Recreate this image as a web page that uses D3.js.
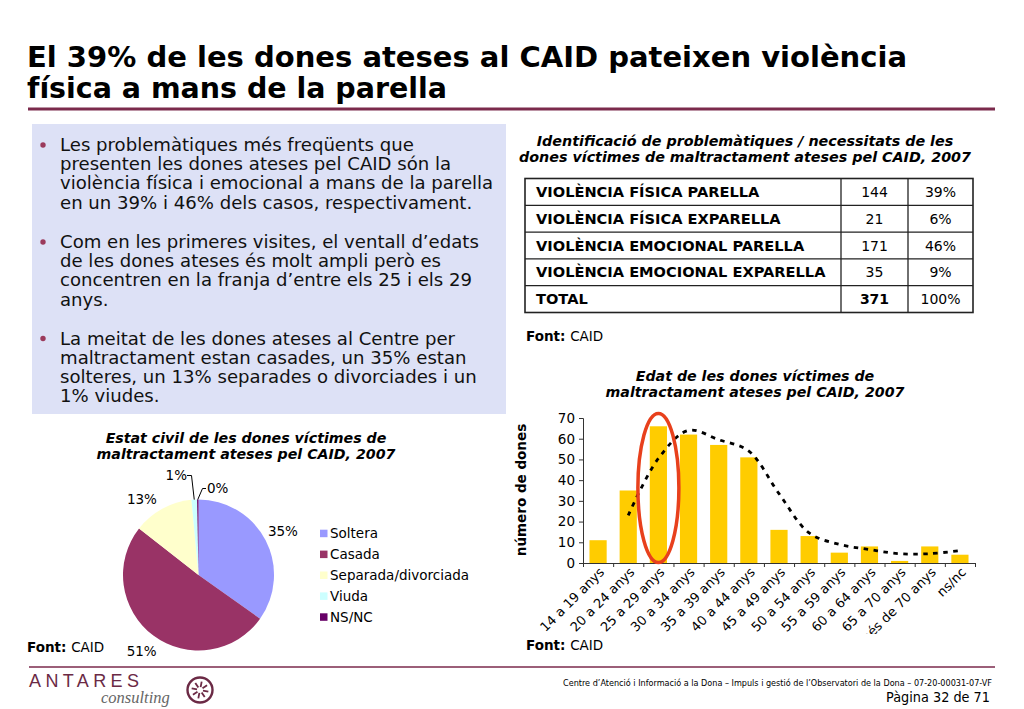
<!DOCTYPE html>
<html><head><meta charset="utf-8">
<script src="https://cdn.jsdelivr.net/npm/d3@7"></script>
<style>
html,body{margin:0;padding:0;background:#fff;}
svg{display:block;}
</style></head>
<body>
<svg id="chart" width="1024" height="709"></svg>
<script>
// ---------- DATA ----------
const titleLines = ["El 39% de les dones ateses al CAID pateixen violència", "física a mans de la parella"];
const bulletParagraphs = [
  ["Les problemàtiques més freqüents que", "presenten les dones ateses pel CAID són la", "violència física i emocional a mans de la parella", "en un 39% i 46% dels casos, respectivament."],
  ["Com en les primeres visites, el ventall d’edats", "de les dones ateses és molt ampli però es", "concentren en la franja d’entre els 25 i els 29", "anys."],
  ["La meitat de les dones ateses al Centre per", "maltractament estan casades, un 35% estan", "solteres, un 13% separades o divorciades i un", "1% viudes."]
];
const tableTitle = ["Identificació de problemàtiques / necessitats  de les", "dones víctimes de maltractament ateses pel CAID, 2007"];
const tableLabels = ["VIOLÈNCIA FÍSICA PARELLA", "VIOLÈNCIA FÍSICA EXPARELLA", "VIOLÈNCIA EMOCIONAL PARELLA", "VIOLÈNCIA EMOCIONAL EXPARELLA", "TOTAL"];
const tableCounts = ["144", "21", "171", "35", "371"];
const tablePcts = ["39%", "6%", "46%", "9%", "100%"];

const pieTitle = ["Estat civil de les dones víctimes de", "maltractament ateses pel CAID, 2007"];
const pieCategories = ["Soltera", "Casada", "Separada/divorciada", "Viuda", "NS/NC"];
const pieValues = [35, 51, 13, 1.2, 0.3];
const pieLabels = ["35%", "51%", "13%", "1%", "0%"];
const pieColors = ["#9999ff", "#993366", "#ffffcc", "#ccffff", "#660066"];

const barTitle = ["Edat de les dones víctimes de", "maltractament ateses pel CAID, 2007"];
const ageCategories = ["14 a 19 anys", "20 a 24 anys", "25 a 29 anys", "30 a 34 anys", "35 a 39 anys", "40 a 44 anys", "45 a 49 anys", "50 a 54 anys", "55 a 59 anys", "60 a 64 anys", "65 a 70 anys", "més de 70 anys", "ns/nc"];
const ageCounts = [11, 35, 66, 62, 57, 51, 16, 13, 5, 8, 1, 8, 4];
// 2-period moving-average trendline (starts at 2nd category)
const trendValues = [23, 50.5, 64, 59.5, 54, 33.5, 14.5, 9, 6.5, 4.5, 4.5, 6];
const yTicks = [0, 10, 20, 30, 40, 50, 60, 70];
const yAxisLabel = "número de dones";
const sourceLabel = "CAID";
const footerText = "Centre d’Atenció i Informació a la Dona – Impuls i gestió de l’Observatori de la Dona – 07-20-00031-07-VF";
const pageText = "Pàgina 32 de 71";

// ---------- DRAW ----------
const svg = d3.select("#chart");
const FONT = "'DejaVu Sans', Verdana, sans-serif";
const maroon = "#7b2a4c";
svg.append("rect").attr("width", 1024).attr("height", 709).attr("fill", "#fff");

// Title
const titleG = svg.append("g").attr("font-family", "'DejaVu Sans Condensed','Liberation Sans Narrow','DejaVu Sans',sans-serif")
  .attr("font-weight", "bold").attr("font-size", 29).attr("fill", "#000");
const titleWidths = [880, 420];
titleLines.forEach((t, i) => {
  titleG.append("text").attr("x", 27).attr("y", 67 + i * 31).text(t)
    .attr("textLength", titleWidths[i]).attr("lengthAdjust", "spacingAndGlyphs");
});
svg.append("line").attr("x1", 28).attr("x2", 995).attr("y1", 109).attr("y2", 109)
  .attr("stroke", maroon).attr("stroke-width", 3);

// Text box
svg.append("rect").attr("x", 32).attr("y", 124).attr("width", 474).attr("height", 290).attr("fill", "#dde1f6");
const paraBase = [151, 248, 344.5];
const tb = svg.append("g").attr("font-family", FONT).attr("font-size", 18.1).attr("fill", "#111");
bulletParagraphs.forEach((lines, p) => {
  tb.append("circle").attr("cx", 43).attr("cy", paraBase[p] - 6).attr("r", 2.7).attr("fill", "#9b3a5c");
  lines.forEach((l, i) => {
    tb.append("text").attr("x", 60).attr("y", paraBase[p] + i * 19.2).text(l);
  });
});

// Table
const tt = svg.append("g").attr("font-family", FONT).attr("font-size", 14.3).attr("font-weight", "bold")
  .attr("font-style", "italic").attr("text-anchor", "middle").attr("fill", "#000");
tableTitle.forEach((t, i) => tt.append("text").attr("x", 745).attr("y", 146 + i * 16).text(t));

const tX = [525, 841, 908, 973];
const tY = d3.scaleLinear().domain([0, 5]).range([178.5, 312.5]);
const tg = svg.append("g");
tg.append("rect").attr("x", tX[0]).attr("y", tY(0)).attr("width", tX[3] - tX[0]).attr("height", tY(5) - tY(0))
  .attr("fill", "#fff").attr("stroke", "#222").attr("stroke-width", 1.6);
d3.range(1, 5).forEach(i => tg.append("line").attr("x1", tX[0]).attr("x2", tX[3]).attr("y1", tY(i)).attr("y2", tY(i))
  .attr("stroke", "#222").attr("stroke-width", 1.3));
[1, 2].forEach(j => tg.append("line").attr("x1", tX[j]).attr("x2", tX[j]).attr("y1", tY(0)).attr("y2", tY(5))
  .attr("stroke", "#222").attr("stroke-width", 1.3));
tableLabels.forEach((lab, i) => {
  const yy = (tY(i) + tY(i + 1)) / 2 + 5;
  tg.append("text").attr("x", 536).attr("y", yy).attr("font-family", FONT).attr("font-size", 14.6)
    .attr("font-weight", "bold").attr("fill", "#000").text(lab);
  tg.append("text").attr("x", (tX[1] + tX[2]) / 2).attr("y", yy).attr("font-family", FONT).attr("font-size", 14)
    .attr("font-weight", i === 4 ? "bold" : "normal").attr("text-anchor", "middle").attr("fill", "#000").text(tableCounts[i]);
  tg.append("text").attr("x", (tX[2] + tX[3]) / 2).attr("y", yy).attr("font-family", FONT).attr("font-size", 14)
    .attr("text-anchor", "middle").attr("fill", "#000").text(tablePcts[i]);
});

function fontNote(x, y) {
  const t = svg.append("text").attr("x", x).attr("y", y).attr("font-family", FONT).attr("font-size", 13.5).attr("fill", "#000");
  t.append("tspan").attr("font-weight", "bold").text("Font: ");
  t.append("tspan").text(sourceLabel);
}
fontNote(526, 341);

// Pie chart
const pt = svg.append("g").attr("font-family", FONT).attr("font-size", 14.2).attr("font-weight", "bold")
  .attr("font-style", "italic").attr("text-anchor", "middle").attr("fill", "#000");
pieTitle.forEach((t, i) => pt.append("text").attr("x", 246).attr("y", 443 + i * 15.5).text(t));

const pcx = 198.5, pcy = 575, pr = 75.5;
const pie = d3.pie().sort(null).value(d => d)(pieValues);
const arc = d3.arc().innerRadius(0).outerRadius(pr);
const pg = svg.append("g").attr("transform", `translate(${pcx},${pcy})`);
pg.selectAll("path").data(pie).join("path").attr("d", arc).attr("fill", (d, i) => pieColors[i]);

const pl = svg.append("g").attr("font-family", FONT).attr("font-size", 13.5).attr("fill", "#000").attr("text-anchor", "middle");
const labOffX = [0, 0, -11], labOffY = [5, 5, 12];
[0, 1, 2].forEach(i => {
  const d = pie[i];
  const a = (d.startAngle + d.endAngle) / 2;
  pl.append("text").attr("x", pcx + 95 * Math.sin(a) + labOffX[i]).attr("y", pcy - 95 * Math.cos(a) + labOffY[i]).text(pieLabels[i]);
});
// leader labels for the tiny slices
const viuda = pie[3], nsnc = pie[4];
const va = (viuda.startAngle + viuda.endAngle) / 2, na = (nsnc.startAngle + nsnc.endAngle) / 2;
pl.append("text").attr("x", 187).attr("y", 480).attr("text-anchor", "end").text(pieLabels[3]);
pl.append("path").attr("d", `M187,475.5 H191.5 L${pcx + pr * Math.sin(va)},${pcy - pr * Math.cos(va)}`)
  .attr("fill", "none").attr("stroke", "#000").attr("stroke-width", 1);
pl.append("text").attr("x", 207).attr("y", 493).attr("text-anchor", "start").text(pieLabels[4]);
pl.append("path").attr("d", `M206,488.5 H202.5 L${pcx + pr * Math.sin(na)},${pcy - pr * Math.cos(na)}`)
  .attr("fill", "none").attr("stroke", "#000").attr("stroke-width", 1);

// legend
const lg = svg.append("g").attr("font-family", FONT).attr("font-size", 13.5).attr("fill", "#000");
pieCategories.forEach((c, i) => {
  const yy = 533.5 + i * 20.9;
  lg.append("rect").attr("x", 320).attr("y", yy - 3.8).attr("width", 7.5).attr("height", 7.5).attr("fill", pieColors[i]);
  lg.append("text").attr("x", 330).attr("y", yy + 4.8).text(c);
});
fontNote(27, 652);

// Bar chart
const bt = svg.append("g").attr("font-family", FONT).attr("font-size", 14.2).attr("font-weight", "bold")
  .attr("font-style", "italic").attr("text-anchor", "middle").attr("fill", "#000");
barTitle.forEach((t, i) => bt.append("text").attr("x", 755).attr("y", 381 + i * 15.5).text(t));

const x0 = 583, x1 = 975;
const x = d3.scaleBand().domain(ageCategories).range([x0, x1]).paddingInner(0.43).paddingOuter(0.215);
const xb = d3.scaleLinear().domain([0, ageCategories.length]).range([x0, x1]);
const y = d3.scaleLinear().domain([0, 70]).range([563, 418]);

svg.append("g").selectAll("rect").data(ageCounts).join("rect")
  .attr("x", (d, i) => x(ageCategories[i])).attr("width", x.bandwidth())
  .attr("y", d => y(d)).attr("height", d => y(0) - y(d)).attr("fill", "#ffcc00");

const yAxis = svg.append("g").attr("transform", `translate(${x0},0)`)
  .call(d3.axisLeft(y).tickValues(yTicks).tickSize(4).tickPadding(4));
yAxis.selectAll("text").attr("font-family", FONT).attr("font-size", 13.5).attr("fill", "#000");
yAxis.selectAll("line,path").attr("stroke", "#333");

const xAxis = svg.append("g").attr("transform", `translate(0,${y(0)})`)
  .call(d3.axisBottom(xb).tickValues(d3.range(0, ageCategories.length + 1)).tickSize(4).tickFormat(""));
xAxis.selectAll("line,path").attr("stroke", "#333");

svg.append("defs").append("clipPath").attr("id", "xlabclip")
  .append("rect").attr("x", 500).attr("y", 560).attr("width", 500).attr("height", 74);
const xl = svg.append("g").attr("clip-path", "url(#xlabclip)").attr("font-family", FONT).attr("font-size", 13).attr("fill", "#000");
ageCategories.forEach((c, i) => {
  const cx = x(c) + x.bandwidth() / 2;
  xl.append("text").attr("transform", `translate(${cx + 7},${y(0) + 10}) rotate(-45)`)
    .attr("text-anchor", "end").text(c);
});

// trendline
const line = d3.line().x(d => d[0]).y(d => d[1]).curve(d3.curveCatmullRom.alpha(0.5));
const trendPts = trendValues.map((v, i) => [x(ageCategories[i + 1]) + x.bandwidth() / 2, y(v)]);
svg.append("path").attr("d", line(trendPts)).attr("fill", "none").attr("stroke", "#000")
  .attr("stroke-width", 2.8).attr("stroke-dasharray", "4.5,5.5");

// highlight ellipse around 25-29
const hc = x(ageCategories[2]) + x.bandwidth() / 2;
svg.append("ellipse").attr("cx", hc).attr("cy", 488).attr("rx", 20.5).attr("ry", 74.5)
  .attr("fill", "none").attr("stroke", "#e8401c").attr("stroke-width", 3.5);

svg.append("text").attr("transform", `translate(526,490) rotate(-90)`).attr("text-anchor", "middle")
  .attr("font-family", FONT).attr("font-size", 13.5).attr("font-weight", "bold").attr("fill", "#000").text(yAxisLabel);
fontNote(526, 650);

// Footer
svg.append("line").attr("x1", 29).attr("x2", 995).attr("y1", 667).attr("y2", 667).attr("stroke", maroon).attr("stroke-width", 1.5);
svg.append("text").attr("x", 29).attr("y", 687).attr("font-family", "'Liberation Sans', Arial, sans-serif")
  .attr("font-size", 18).attr("fill", "#6b2a45").attr("textLength", 110).attr("lengthAdjust", "spacing").text("ANTARES");
svg.append("text").attr("x", 101).attr("y", 703).attr("font-family", "'Liberation Serif', 'Times New Roman', serif")
  .attr("font-style", "italic").attr("font-size", 16.5).attr("fill", "#666").text("consulting");
const logo = svg.append("g").attr("transform", "translate(200,690)").attr("stroke", "#6b2a45").attr("fill", "none");
logo.append("circle").attr("r", 12.5).attr("stroke-width", 2.4);
d3.range(8).forEach(k => {
  const a = k * Math.PI / 4 + 0.2;
  logo.append("line").attr("x1", 3 * Math.cos(a)).attr("y1", 3 * Math.sin(a))
    .attr("x2", 8.5 * Math.cos(a)).attr("y2", 8.5 * Math.sin(a)).attr("stroke-width", 1.8);
});
svg.append("text").attr("x", 992).attr("y", 686).attr("text-anchor", "end").attr("font-family", FONT)
  .attr("font-size", 8.5).attr("fill", "#000").attr("textLength", 429).attr("lengthAdjust", "spacingAndGlyphs").text(footerText);
svg.append("text").attr("x", 990).attr("y", 702).attr("text-anchor", "end").attr("font-family", FONT)
  .attr("font-size", 13.5).attr("fill", "#000").attr("textLength", 104).attr("lengthAdjust", "spacingAndGlyphs").text(pageText);
</script>
</body></html>
